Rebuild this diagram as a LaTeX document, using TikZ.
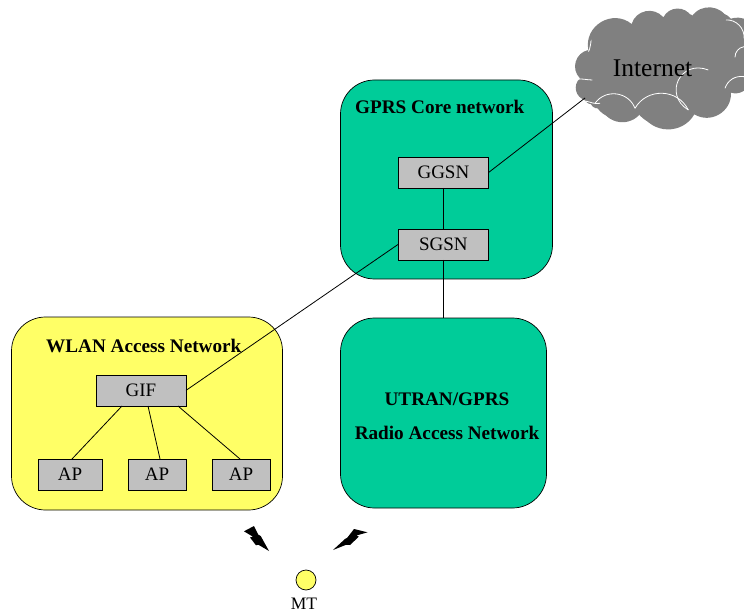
\documentclass[tikz,border=0pt]{standalone}
\usepackage{fontspec}
\setmainfont{Liberation Serif}
\definecolor{teal1}{HTML}{00CC99}
\definecolor{yel1}{HTML}{FFFF66}
\definecolor{box1}{HTML}{C0C0C0}
\definecolor{cloud1}{HTML}{808080}
\tikzset{
  region/.style={draw=black,line width=0.7pt,rounded corners=34pt,anchor=north west,inner sep=0pt,outer sep=0pt},
  netbox/.style={draw=black,line width=0.6pt,fill=box1,inner sep=0pt,outer sep=0pt,font=\fontsize{19}{20}\selectfont,anchor=center},
  conn/.style={draw=black,line width=0.8pt},
  title/.style={font=\fontsize{19.2}{22}\bfseries\selectfont,anchor=base west,inner sep=0pt,text=black},
  crease/.style={draw=white,line width=0.8pt},
  cloudfill/.style={fill=cloud1},
  bolt/.style={fill=black},
  lobe/.style={bend left=62,looseness=1.15},
  flat/.style={bend left=45,looseness=1}
}
\newcommand{\cloudshape}{
  (85,150) to[bend left=70,looseness=1.25] (215,72)
  to[lobe] (310,52)
  to[lobe] (395,50)
  to[lobe] (505,60)
  to[lobe] (590,115)
  to[lobe] (580,200)
  to[lobe] (552,235)
  to[flat] (495,265)
  to[lobe] (385,330)
  to[lobe] (225,325)
  to[lobe] (105,310)
  to[flat] (75,300)
  to[lobe] (60,235)
  to[lobe] (85,150) -- cycle
}
\begin{document}
\begin{tikzpicture}[x=1pt,y=-1pt]
\useasboundingbox (0,0) rectangle (744,612);
\clip (0,0) rectangle (744,612);
% regions
\node[region,fill=teal1,minimum width=212pt,minimum height=199pt] (core) at (340.5,80) {};
\node[region,fill=teal1,minimum width=206pt,minimum height=190pt] (utran) at (340.5,318) {};
\node[region,fill=yel1,minimum width=271pt,minimum height=193pt] (wlan) at (11.5,317) {};
% boxes
\node[netbox,minimum width=90.6pt,minimum height=31pt] (ggsn) at (443.4,172.4) {GGSN};
\node[netbox,minimum width=90.6pt,minimum height=31pt] (sgsn) at (443.4,244.4) {SGSN};
\node[netbox,minimum width=90pt,minimum height=31pt] (gif) at (141,390.4) {GIF};
\node[netbox,minimum width=64pt,minimum height=31pt] (ap1) at (70,474.4) {AP};
\node[netbox,minimum width=58pt,minimum height=31pt] (ap2) at (157,474.4) {AP};
\node[netbox,minimum width=58pt,minimum height=31pt] (ap3) at (241,474.4) {AP};
% cloud
\coordinate (cloudedge) at (585,98);
\begin{scope}[shift={(560,0)},x=0.3333pt,y=-0.3333pt]
  \begin{scope}[shift={(18,13)}]
    \fill[cloudfill] \cloudshape;
  \end{scope}
  \fill[cloudfill] \cloudshape;
  \draw[crease] (85,152) to[out=-80,in=70] (92,125);
  \draw[crease] (50,238) to[out=10,in=180] (97,240);
  \draw[crease] (75,303) to[out=-10,in=190] (120,310);
  \draw[crease] (105,310) to[lobe] (225,325);
  \draw[crease] (225,325) to[lobe] (385,330);
  \draw[crease] (385,330) to[bend left=85,looseness=1.7] (445,210);
  \draw[crease] (495,265) to[bend left=40] (552,230);
  \draw[crease] (525,172) to[bend left=40] (552,140);
  \draw[crease] (498,60) to[bend left=50] (552,115);
\end{scope}
\node[inner sep=0pt,font=\fontsize{25.5}{28}\selectfont,anchor=base] (inet) at (652.5,77) {Internet};
% connectors
\draw[conn] (ggsn.east) -- (cloudedge);
\draw[conn] (ggsn.south) -- (sgsn.north);
\draw[conn] (sgsn.south) -- (utran.north -| sgsn.south);
\draw[conn] (sgsn.west) -- (gif.east);
\coordinate (g1) at (122,406);
\coordinate (g2) at (148,406);
\coordinate (g3) at (178,406);
\coordinate (a1) at (72,459);
\coordinate (a2) at (160,459);
\coordinate (a3) at (240,459);
\draw[conn] (g1) -- (a1);
\draw[conn] (g2) -- (a2);
\draw[conn] (g3) -- (a3);
% titles
\node[title] (t1) at (355,114) {GPRS Core network};
\node[title] (t2) at (46,352) {WLAN Access Network};
\node[title] (t3) at (447,405) [anchor=base] {UTRAN/GPRS};
\node[title] (t4) at (447,439) [anchor=base] {Radio Access Network};
% bolts
\fill[bolt] (244,531.3)--(254,526)--(258.3,534.7)--(260.7,536)--(269,551)--(258.3,544.7)--(256,545.3)--(250,537.5)--(253,536.7)--cycle;
\fill[bolt] (367.5,532.3)--(354,529)--(347.3,537.7)--(345,539)--(333,550)--(346,544.8)--(350,545)--(358.8,536.7)--(356.5,535.5)--cycle;
% MT
\node[circle,draw=black,fill=yel1,line width=0.7pt,minimum size=20pt,inner sep=0pt] (mt) at (306,580) {};
\node[inner sep=0pt,font=\fontsize{17.5}{19}\selectfont,anchor=base] (mtl) at (304,609) {MT};
\end{tikzpicture}
\end{document}
